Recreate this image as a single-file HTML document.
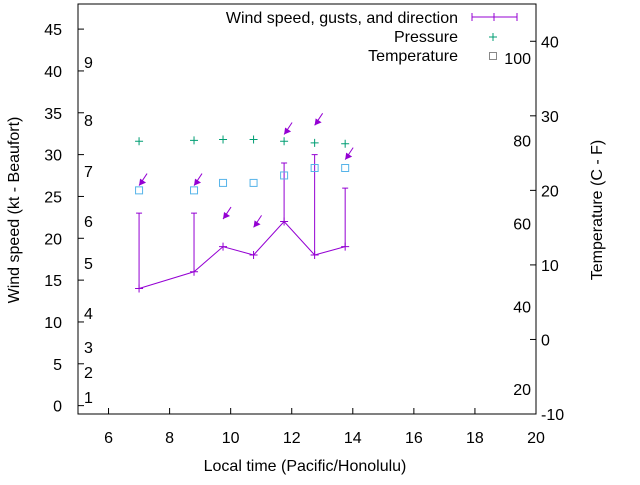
<!DOCTYPE html>
<html><head><meta charset="utf-8"><style>
body{margin:0;background:#fff}
svg text{font-family:"Liberation Sans",sans-serif;font-size:16px;fill:#000}
</style></head><body>
<svg id="c" width="640" height="480" xmlns="http://www.w3.org/2000/svg"></svg>
<script>
const times=[7,8.8,9.75,10.75,11.75,12.75,13.75];
const speeds=[14,16,19,18,22,18,19];
const gusts=[23,23,null,null,29,30,26];
const pressure=[31.6,31.7,31.8,31.8,31.6,31.4,31.3];
const tempC=[20,20,21,21,22,23,23];
const arrowY=[26.3,26.3,22.3,21.3,32.4,33.5,29.4];
const xTicks=[6,8,10,12,14,16,18,20];
const yTicks=[0,5,10,15,20,25,30,35,40,45];
const y2Ticks=[-10,0,10,20,30,40];
const beaufort=[[1,397],[2,372],[3,347],[4,313],[5,263],[6,221],[7,171],[8,120],[9,62]];
const fahr=[20,40,60,80,100];
const L=78,R=536,T=4,B=414;
const X=v=>L+(v-5)/15*(R-L);
const Y=v=>B-(v+1)/49*(B-T);
const Y2=v=>B-(v+10)/55*(B-T);
const svg=document.getElementById('c');
const NS='http://www.w3.org/2000/svg';
function el(tag,attrs,name,txt){const e=document.createElementNS(NS,tag);for(const k in attrs)e.setAttribute(k,attrs[k]);


if(txt!==undefined)e.textContent=txt;svg.appendChild(e);return e;}
el('rect',{x:L,y:T,width:R-L,height:B-T,fill:'none',stroke:'#000','stroke-width':1},'plot-frame');
xTicks.forEach(t=>{const x=X(t);el('line',{x1:x,y1:B,x2:x,y2:B-6,stroke:'#000'},'x-tick');
el('text',{x:x,y:443,'text-anchor':'middle'},'x-tick-label',String(t));});
yTicks.forEach(t=>{const y=Y(t);el('line',{x1:L,y1:y,x2:L+6,y2:y,stroke:'#000'},'y-tick');
el('text',{x:62,y:y+6,'text-anchor':'end'},'y-tick-label',String(t));});
y2Ticks.forEach(t=>{const y=Y2(t);el('line',{x1:R,y1:y,x2:R-6,y2:y,stroke:'#000'},'y2-tick');
el('text',{x:541,y:y+6},'y2-tick-label',String(t));});
beaufort.forEach(b=>el('text',{x:84,y:b[1]+6},'beaufort-label',String(b[0])));
fahr.forEach(f=>el('text',{x:531,y:Y2((f-32)*5/9)+6,'text-anchor':'end'},'fahrenheit-label',String(f)));
el('text',{x:305,y:471,'text-anchor':'middle'},'x-axis-title','Local time (Pacific/Honolulu)');
el('text',{x:0,y:0,'text-anchor':'middle',transform:'translate(19,210) rotate(-90)'},'y-axis-title','Wind speed (kt - Beaufort)');
el('text',{x:0,y:0,'text-anchor':'middle',transform:'translate(602,210) rotate(-90)'},'y2-axis-title','Temperature (C - F)');
const P='#9400d3';
el('polyline',{points:times.map((t,i)=>X(t)+','+Y(speeds[i])).join(' '),fill:'none',stroke:P},'speed-line');
times.forEach((t,i)=>{const x=X(t),y=Y(speeds[i]);
el('path',{d:`M${x-4},${y}h8M${x},${y-4}v8`,stroke:P},'speed-point');
if(gusts[i]!==null){const g=Y(gusts[i]);el('path',{d:`M${x},${y}V${g}M${x-3},${g}h6`,stroke:P},'gust-bar');}
const py=Y(pressure[i]);el('path',{d:`M${x-4},${py}h8M${x},${py-4}v8`,stroke:'#009e73'},'pressure-point');
const ty=Y2(tempC[i]);el('rect',{x:x-3.5,y:ty-3.5,width:7,height:7,fill:'none',stroke:'#56b4e9'},'temperature-point');
const ax=x,ay=Y(arrowY[i]);
el('line',{x1:ax,y1:ay,x2:ax+8,y2:ay-12,stroke:P},'direction-arrow');
el('path',{d:`M${ax},${ay}l1,-7l6,4z`,fill:P},'direction-arrow-head');});
el('text',{x:458,y:23,'text-anchor':'end'},'legend-wind-label','Wind speed, gusts, and direction');
el('path',{d:'M472,17H517M472,13v8M517,13v8M494,13v8',stroke:P},'legend-wind-sample');
el('text',{x:458,y:42,'text-anchor':'end'},'legend-pressure-label','Pressure');
el('path',{d:'M489,37h8M493,33v8',stroke:'#009e73'},'legend-pressure-sample');
el('text',{x:458,y:61,'text-anchor':'end'},'legend-temperature-label','Temperature');
el('rect',{x:489.5,y:52.5,width:7,height:7,fill:'none',stroke:'#888'},'legend-temperature-sample');
</script></body></html>
